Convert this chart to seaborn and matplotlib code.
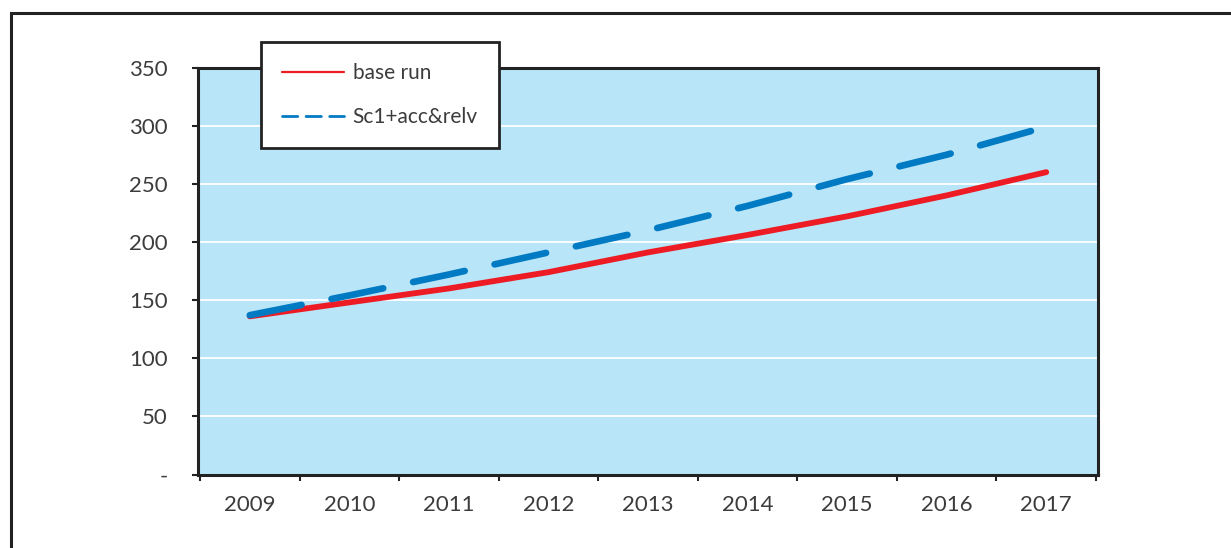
import matplotlib
matplotlib.use("Agg")
import matplotlib.pyplot as plt
import seaborn as sns
import pandas as pd
from matplotlib.patches import Rectangle

years = [2009, 2010, 2011, 2012, 2013, 2014, 2015, 2016, 2017]
base_run = [136, 148, 160, 174, 191, 206, 222, 240, 260]
sc1_acc_relv = [137, 154, 172, 191, 210, 231, 254, 275, 299]
y_ticks = [0, 50, 100, 150, 200, 250, 300, 350]
y_labels = ["-", "50", "100", "150", "200", "250", "300", "350"]

df = pd.DataFrame({"year": years, "base run": base_run, "Sc1+acc&relv": sc1_acc_relv})

sns.set_style("white")
plt.rcParams["font.family"] = ["Lato", "DejaVu Sans"]
plt.rcParams["lines.scale_dashes"] = False
text_color = "#3c3c3c"

fig = plt.figure(figsize=(12.31, 5.48), dpi=100)
ax = fig.add_axes([198 / 1231, 1 - 474.5 / 548, 900 / 1231, 407 / 548])
ax.set_facecolor("#b9e5f9")

sns.lineplot(data=df, x="year", y="base run", ax=ax, color="#ed1c24", linewidth=4.2,
             label="base run", solid_capstyle="round")
sns.lineplot(data=df, x="year", y="Sc1+acc&relv", ax=ax, color="#007ac3", linewidth=4.8,
             label="Sc1+acc&relv", dash_capstyle="round")
ax.lines[1].set_dashes([38, 22])

ax.set_ylim(0, 350)
ax.set_xlim(years[0] - 0.52, years[-1] + 0.52)
ax.set_yticks(y_ticks)
ax.set_yticklabels(y_labels)
ax.yaxis.grid(True, color="white", linewidth=1.3)
ax.set_axisbelow(True)

# year labels centred, tick marks between categories
ax.set_xticks([y - 0.5 for y in years] + [years[-1] + 0.5])
ax.set_xticklabels([])
ax.set_xticks(years, minor=True)
ax.set_xticklabels([str(y) for y in years], minor=True)
ax.tick_params(axis="x", which="major", direction="out", length=4, width=1.5,
               color="#222222", bottom=True, pad=0)
ax.tick_params(axis="x", which="minor", length=0, pad=15, labelsize=16, labelcolor=text_color)
ax.tick_params(axis="y", direction="out", length=4, width=1.5, color="#222222", left=True,
               pad=18, labelsize=16, labelcolor=text_color)
ax.set_xlabel("")
ax.set_ylabel("")

for s in ax.spines.values():
    s.set_visible(True)
    s.set_color("#222222")
    s.set_linewidth(2.2)

leg = ax.legend(loc="upper left", bbox_to_anchor=(261 / 1231, 1 - 42 / 548),
                bbox_transform=fig.transFigure, borderaxespad=0, fontsize=15,
                handlelength=3.0, handletextpad=0.4, labelspacing=1.15,
                borderpad=1.0, fancybox=False, framealpha=1, facecolor="white",
                edgecolor="#222222", labelcolor=text_color)
leg.get_frame().set_linewidth(2.0)
leg.get_lines()[0].set_linewidth(1.6)
leg.get_lines()[1].set_linewidth(2.0)
leg.get_lines()[1].set_dashes([11, 6])

# outer chart border (cropped on right and bottom)
fig.patches.append(Rectangle((11 / 1231, -0.1), 1.2, 1.1 - 13 / 548,
                             transform=fig.transFigure, fill=False,
                             edgecolor="#222222", linewidth=2.2, zorder=0))

fig.savefig("out.png", dpi=100)
